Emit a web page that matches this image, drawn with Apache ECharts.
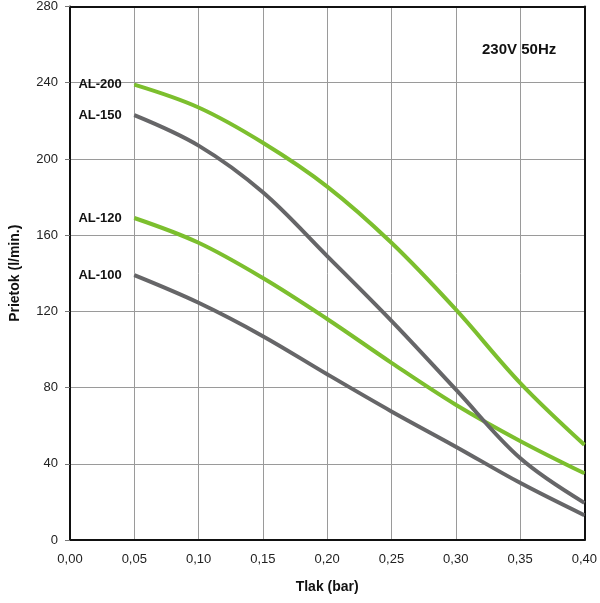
<!DOCTYPE html>
<html>
<head>
<meta charset="utf-8">
<script src="https://cdn.jsdelivr.net/npm/echarts@6/dist/echarts.min.js"></script>
<style>
  html, body { margin: 0; padding: 0; background: #fff; }
  #chart { width: 600px; height: 603px; }
</style>
</head>
<body>
<div id="chart"></div>
<script>
// tlak (bar)
var pressure = [0.05, 0.10, 0.15, 0.20, 0.25, 0.30, 0.35, 0.40];
// prietok (l/min.)
var al200 = [239, 227, 208.5, 185.5, 156, 121, 82.5, 50];
var al150 = [223, 207, 182.5, 149, 115, 79, 43, 19.5];
var al120 = [169, 156, 137.5, 116, 93, 71, 52, 35];
var al100 = [139, 124.5, 107, 87, 67.5, 49, 30, 13];

var GREEN = '#7cbf2e';
var GREY = '#666668';
var FONT = 'Liberation Sans, Arial, sans-serif';

function pairs(ys) {
    return pressure.map(function (x, i) { return [x, ys[i]]; });
}

function curve(name, ys, color) {
    return {
        name: name,
        type: 'line',
        smooth: 0.35,
        symbol: 'circle',
        symbolSize: 1,
        showSymbol: true,
        itemStyle: { color: color },
        data: pairs(ys),
        lineStyle: { color: color, width: 4 },
        // nazov krivky na zaciatku
        label: {
            show: true,
            position: 'left',
            distance: 12,
            fontSize: 13,
            fontWeight: 'bold',
            color: '#111',
            fontFamily: FONT,
            formatter: function (p) { return p.dataIndex === 0 ? name : ''; }
        },
        labelLayout: { hideOverlap: false },
        z: color === GREEN ? 3 : 4
    };
}

var myChart = echarts.init(document.getElementById('chart'));
var frame = { show: true, onZero: false, lineStyle: { color: '#111', width: 2 } };
var gridLine = { lineStyle: { color: '#9a9a9a', width: 1 } };

var option = {
    backgroundColor: '#fff',
    animation: false,
    textStyle: { fontFamily: FONT },
    grid: { left: 65, right: 13, top: 4, bottom: 63 },
    xAxis: [{
        type: 'value',
        min: 0,
        max: 0.4,
        interval: 0.05,
        name: 'Tlak (bar)',
        nameLocation: 'middle',
        nameGap: 40,
        nameTextStyle: { fontSize: 14, fontWeight: 'bold', color: '#111' },
        axisLine: frame,
        axisTick: { show: false },
        axisLabel: {
            fontSize: 13,
            color: '#222',
            margin: 13,
            formatter: function (v) { return v.toFixed(2).replace('.', ','); }
        },
        splitLine: gridLine
    }, {
        // horny okraj
        type: 'value',
        position: 'top',
        min: 0,
        max: 0.4,
        axisLine: frame,
        axisTick: { show: false },
        axisLabel: { show: false },
        splitLine: { show: false }
    }],
    yAxis: [{
        type: 'value',
        min: 0,
        max: 280,
        interval: 40,
        name: 'Prietok (l/min.)',
        nameLocation: 'middle',
        nameGap: 48,
        nameTextStyle: { fontSize: 14, fontWeight: 'bold', color: '#111' },
        axisLine: frame,
        axisTick: { show: true, length: 5, lineStyle: { color: '#777' } },
        axisLabel: { fontSize: 13, color: '#222', margin: 12 },
        splitLine: gridLine
    }, {
        // pravy okraj
        type: 'value',
        position: 'right',
        min: 0,
        max: 280,
        axisLine: frame,
        axisTick: { show: false },
        axisLabel: { show: false },
        splitLine: { show: false }
    }],
    graphic: [{
        type: 'text',
        left: 482,
        top: 42,
        style: {
            text: '230V 50Hz',
            fontSize: 15,
            fontWeight: 'bold',
            fill: '#111',
            fontFamily: FONT
        }
    }],
    series: [
        curve('AL-200', al200, GREEN),
        curve('AL-150', al150, GREY),
        curve('AL-120', al120, GREEN),
        curve('AL-100', al100, GREY)
    ]
};
myChart.setOption(option);
</script>
</body>
</html>
